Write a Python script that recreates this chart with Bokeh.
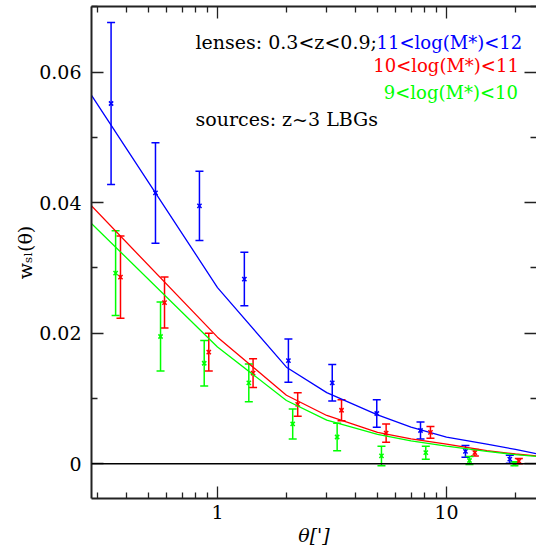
import math
from bokeh.plotting import figure
from bokeh.models import (Range1d, LogAxis, LinearAxis, FixedTicker, Whisker, TeeHead,
                          ColumnDataSource, Span, Label)
from bokeh.embed import file_html
from bokeh.resources import INLINE

# ---- data ----
theta_blue = [0.343, 0.536, 0.834, 1.31, 2.04, 3.17, 4.96, 7.70, 12.1, 18.9]
w_blue = [0.0552, 0.0415, 0.0395, 0.0283, 0.0158, 0.0124, 0.0077, 0.0051, 0.0019, 0.0007]
err_blue = [0.0124, 0.0077, 0.0053, 0.0041, 0.0033, 0.0028, 0.0021, 0.0013, 0.0009, 0.0006]

theta_red = [0.377, 0.587, 0.916, 1.43, 2.24, 3.48, 5.45, 8.51, 13.3, 20.7]
w_red = [0.0286, 0.0247, 0.0171, 0.0139, 0.0091, 0.0082, 0.0047, 0.0048, 0.0017, 0.0004]
err_red = [0.0063, 0.0039, 0.0029, 0.0022, 0.0018, 0.0016, 0.0014, 0.0009, 0.0005, 0.0004]

theta_green = [0.359, 0.564, 0.875, 1.37, 2.13, 3.33, 5.20, 8.12, 12.6, 19.8]
w_green = [0.0292, 0.0195, 0.0154, 0.0124, 0.0061, 0.0041, 0.0012, 0.0017, 0.0005, 0.0000]
err_green = [0.0065, 0.0053, 0.0035, 0.0029, 0.0023, 0.0021, 0.0015, 0.0010, 0.0006, 0.0003]

theta_model = [0.28, 1.0, 2.0, 3.0, 5.0, 7.0, 10.0, 15.0, 20.0, 25.0]
model_blue = [0.0566, 0.0270, 0.0148, 0.0109, 0.0075, 0.0056, 0.0041, 0.0030, 0.0022, 0.0015]
model_red = [0.0396, 0.0194, 0.0105, 0.0074, 0.0048, 0.0038, 0.0030, 0.0020, 0.0015, 0.0012]
model_green = [0.0369, 0.0179, 0.0097, 0.0067, 0.0045, 0.0035, 0.0027, 0.0019, 0.0014, 0.0011]

x_major = [1, 10]
x_minor = [0.3, 0.4, 0.5, 0.6, 0.7, 0.8, 0.9, 2, 3, 4, 5, 6, 7, 8, 9, 20]
x_labels = {1: "1", 10: "10"}
y_major = [0.0, 0.02, 0.04, 0.06]
y_minor = [0.01, 0.03, 0.05, 0.07]
y_labels = {0.0: "0", 0.02: "0.02", 0.04: "0.04", 0.06: "0.06"}

series = [
    ("blue", "#0000ff", theta_blue, w_blue, err_blue, model_blue),
    ("red", "#ff0000", theta_red, w_red, err_red, model_red),
    ("green", "#00ff00", theta_green, w_green, err_green, model_green),
]

FONT = "DejaVu Serif"
AXC = "#222222"

# frame geometry (pixels inside the figure canvas)
W, H = 536, 551
FL, FT, FB = 91, 6, 53          # left / top / bottom borders
FW, FH = W - FL, H - FT - FB     # frame width / height
DEC = 229.0                      # pixels per decade on x
X0 = 0.2817
X1 = 10 ** (math.log10(X0) + FW / DEC)
PX_PER_UNIT = 6527.0             # pixels per unit of w on y
Y1 = 0.07006
Y0 = Y1 - FH / PX_PER_UNIT

p = figure(width=W, height=H, x_axis_type="log",
           x_range=Range1d(X0, X1), y_range=Range1d(Y0, Y1),
           output_backend="svg", toolbar_location=None,
           min_border_left=FL, min_border_right=0, min_border_top=FT, min_border_bottom=FB)
p.outline_line_color = None
p.grid.visible = False
p.background_fill_color = "white"


def style_axis(ax, show_labels, line=True):
    ax.axis_line_color = AXC if line else None
    ax.axis_line_width = 2
    ax.major_tick_line_color = AXC
    ax.minor_tick_line_color = AXC
    ax.major_tick_line_width = 1.3
    ax.minor_tick_line_width = 1.3
    ax.major_tick_in = 12
    ax.major_tick_out = 0
    ax.minor_tick_in = 6
    ax.minor_tick_out = 0
    ax.major_label_text_font = FONT
    ax.major_label_text_color = "black"
    if show_labels:
        ax.major_label_text_font_size = "19px"
    else:
        ax.major_label_text_font_size = "0px"
        ax.major_label_standoff = 0


xa = p.xaxis[0]
xa.ticker = FixedTicker(ticks=x_major, minor_ticks=x_minor)
xa.major_label_overrides = x_labels
style_axis(xa, True)
xa.major_label_standoff = 6
xa.axis_label = "θ[']"
xa.axis_label_text_font = FONT
xa.axis_label_text_font_size = "19px"
xa.axis_label_text_font_style = "italic"
xa.axis_label_text_color = "black"
xa.axis_label_standoff = 2

ya = p.yaxis[0]
ya.ticker = FixedTicker(ticks=y_major, minor_ticks=y_minor)
ya.major_label_overrides = y_labels
style_axis(ya, True)
ya.major_label_standoff = 10
ya.axis_label = "wₛₗ(θ)"
ya.axis_label_text_font = FONT
ya.axis_label_text_font_size = "19px"
ya.axis_label_text_font_style = "normal"
ya.axis_label_text_color = "black"
ya.axis_label_standoff = 0

top = LogAxis(ticker=FixedTicker(ticks=x_major, minor_ticks=x_minor))
style_axis(top, False)
top.major_label_overrides = {1: "", 10: ""}
p.add_layout(top, "above")

right = LinearAxis(ticker=FixedTicker(ticks=y_major, minor_ticks=y_minor))
style_axis(right, False, line=False)
right.major_label_overrides = {0.0: "", 0.02: "", 0.04: "", 0.06: ""}
p.add_layout(right, "right")

p.add_layout(Span(location=0, dimension="width", line_color="black", line_width=1.5))

for name, col, th, w, e, m in series:
    p.line(theta_model, m, line_color=col, line_width=1.3)
    src = ColumnDataSource(dict(x=th, y=w,
                                lo=[a - b for a, b in zip(w, e)],
                                hi=[a + b for a, b in zip(w, e)]))
    wk = Whisker(source=src, base="x", lower="lo", upper="hi",
                 line_color=col, line_width=1.5,
                 upper_head=TeeHead(size=8, line_color=col, line_width=1.5),
                 lower_head=TeeHead(size=8, line_color=col, line_width=1.5))
    p.add_layout(wk)
    p.scatter("x", "y", source=src, marker="x", size=6, line_color=col, line_width=1.5)

texts = [
    ("lenses: 0.3<z<0.9;", 0.8015, 0.0646, "black", "left", "19px"),
    ("11<log(M*)<12", 21.4, 0.0646, "#0000ff", "right", "18px"),
    ("10<log(M*)<11", 20.7, 0.0610, "#ff0000", "right", "18px"),
    ("9<log(M*)<10", 20.5, 0.0569, "#00ff00", "right", "18px"),
    ("sources: z~3 LBGs", 0.8015, 0.0529, "black", "left", "19px"),
]
for t, x, y, c, al, fs in texts:
    p.add_layout(Label(x=x, y=y, text=t, text_color=c, text_font=FONT,
                       text_font_size=fs, text_align=al, text_baseline="alphabetic"))

open("out.html", "w").write(file_html(p, INLINE))
